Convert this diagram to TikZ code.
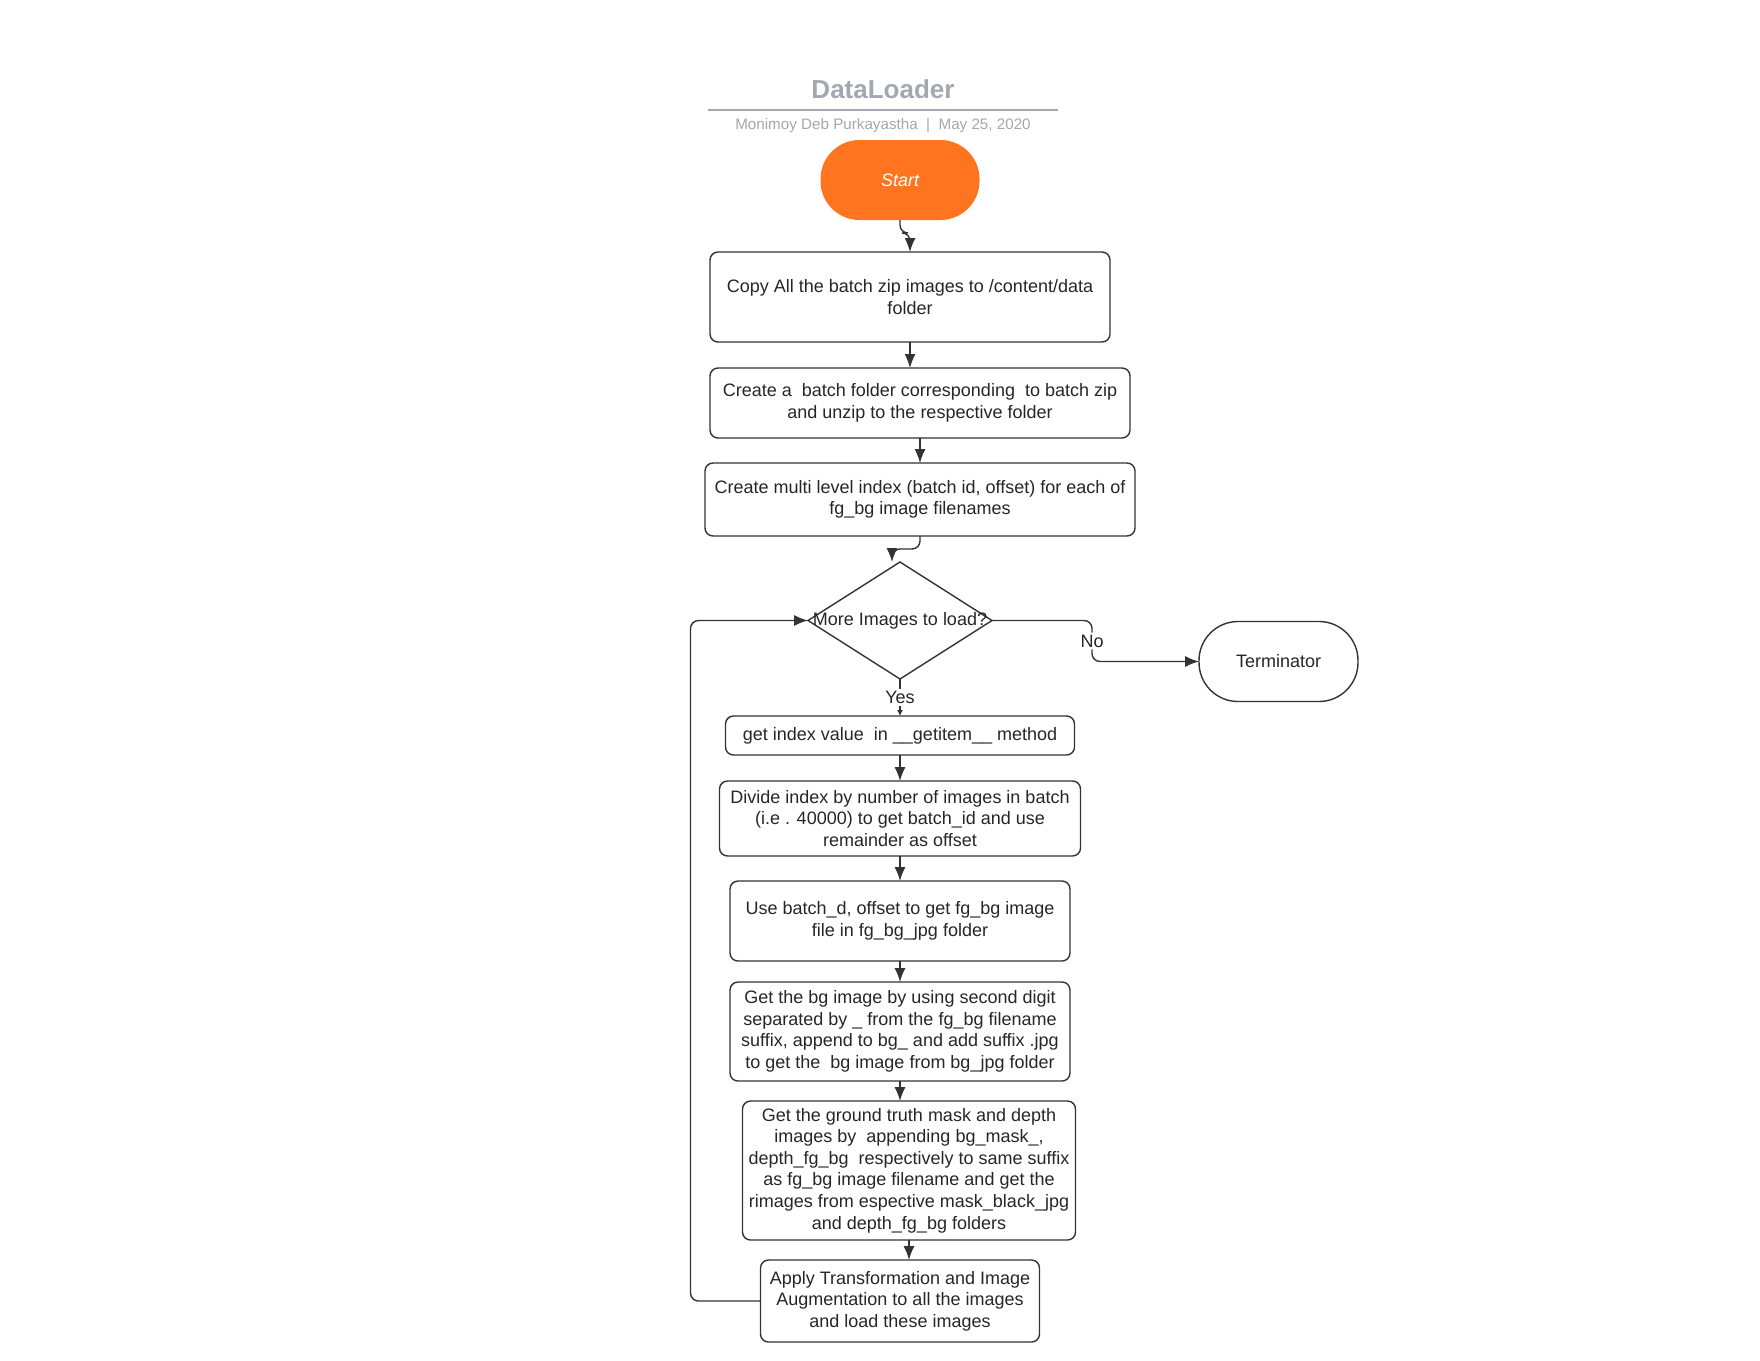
\documentclass[tikz,border=0pt]{standalone}
\usepackage{fontspec}
\setmainfont{Liberation Sans}
\usetikzlibrary{positioning}
\usetikzlibrary{shapes.geometric}
\usetikzlibrary{arrows.meta}
\definecolor{lineclr}{HTML}{333333}
\definecolor{titleclr}{HTML}{A2A8B0}
\definecolor{startclr}{HTML}{FF741F}
\tikzset{
  txt/.style={font=\fontsize{9}{10.8}\selectfont,text=black!85},
  process/.style 2 args={rectangle,draw=lineclr,line width=0.7pt,rounded
    corners=4pt,align=center,inner sep=2pt,outer sep=0pt,txt,minimum
    width=#1,minimum height=#2},
  terminal/.style={rectangle,rounded corners=19.5pt,align=center,txt,
    outer sep=0pt,minimum width=79.5pt,minimum height=40pt},
  decision/.style={diamond,draw=lineclr,line width=0.7pt,inner sep=0pt,
    outer sep=0pt,txt,minimum width=92pt,minimum height=58.5pt},
  flow/.style={-{Latex[length=7pt,width=5.5pt]},lineclr,line width=0.7pt,
    rounded corners=4pt},
  lbl/.style={fill=white,inner sep=1pt,txt}
}

\begin{document}
\begin{tikzpicture}[x=0.5pt,y=-0.5pt]
  \useasboundingbox (0,0) rectangle (1760,1360);
  \node (title) at (883,89) [font=\bfseries\fontsize{13}{15}\selectfont,
    text=titleclr] {DataLoader};
  \draw[titleclr,line width=0.8pt] (708,110) -- (1058,110);
  \node (author) at (883,126) [font=\fontsize{7.6}{9}\selectfont,
    text=titleclr] {Monimoy Deb Purkayastha\ \ |\ \ May 25, 2020};
  \node (start) at (900,180) [terminal,fill=startclr,text=white,
    font=\itshape\fontsize{9}{10.8}\selectfont] {Start};
  \node (b1) [process={200pt}{45pt},below=16pt of start,xshift=5pt]
    {Copy All the batch zip images to /content/data\\folder};
  \node (b2) [process={210pt}{35pt},below=13pt of b1,xshift=5pt]
    {Create a\ \ batch folder corresponding\ \ to batch zip\\
     and unzip to the respective folder};
  \node (b3) [process={215pt}{36.5pt},below=12.5pt of b2]
    {Create multi level index (batch id, offset) for each of\\
     fg\_bg image filenames};
  \node (dec) [decision,below=13pt of b3,xshift=-10pt]
    {\makebox[0pt]{More Images to load?}};
  \node (term) [terminal,draw=lineclr,line width=0.7pt,right=103.5pt of dec,
    yshift=-20.5pt] {Terminator};
  \node (b4) [process={174.5pt}{19.5pt},below=18.5pt of dec]
    {get index value\ \ in \_\_getitem\_\_ method};
  \node (b5) [process={180.5pt}{37.5pt},below=13pt of b4]
    {Divide index by number of images in batch\\
     (i.e . 40000) to get batch\_id and use\\
     remainder as offset};
  \node (b6) [process={170pt}{40pt},below=12.5pt of b5]
    {Use batch\_d, offset to get fg\_bg image\\
     file in fg\_bg\_jpg folder};
  \node (b7) [process={170pt}{49.5pt},below=10.5pt of b6]
    {Get the bg image by using second digit\\
     separated by \_ from the fg\_bg filename\\
     suffix, append to bg\_ and add suffix .jpg\\
     to get the\ \ bg image from bg\_jpg folder};
  \node (b8) [process={166.5pt}{69.5pt},below=10pt of b7,xshift=4.5pt]
    {Get the ground truth mask and depth\\
     images by\ \ appending bg\_mask\_,\\
     depth\_fg\_bg\ \ respectively to same suffix\\
     as fg\_bg image filename and get the\\
     rimages from espective mask\_black\_jpg\\
     and depth\_fg\_bg folders};
  \node (b9) [process={139.5pt}{41pt},below=10pt of b8,xshift=-4.5pt]
    {Apply Transformation and Image\\
     Augmentation to all the images\\
     and load these images};
  \draw[flow] (start.south) -- ++(0,13) -| (b1.north);
  \draw[flow] (b1.south) -- (b1.south |- b2.north);
  \draw[flow] (b2.south) -- (b3.north);
  \draw[flow] (b3.south) -- ++(0,13) -| ([xshift=-4pt]dec.north);
  \draw[flow] (dec.east) -- ++(100,0) |- node[lbl,pos=0.25] (no) {No}
    (term.west);
  \draw[flow,-{Latex[length=3pt,width=3pt]}] (dec.south) --
    node[lbl] (yes) {Yes} (b4.north);
  \draw[flow] (b4) -- (b5);
  \draw[flow] (b5) -- (b6);
  \draw[flow] (b6) -- (b7);
  \draw[flow] (b7.south) -- (b7.south |- b8.north);
  \draw[flow] (b8.south) -- (b8.south |- b9.north);
  \draw[flow] (b9.west) -- ++(-70,0) |- (dec.west);
\end{tikzpicture}
\end{document}
